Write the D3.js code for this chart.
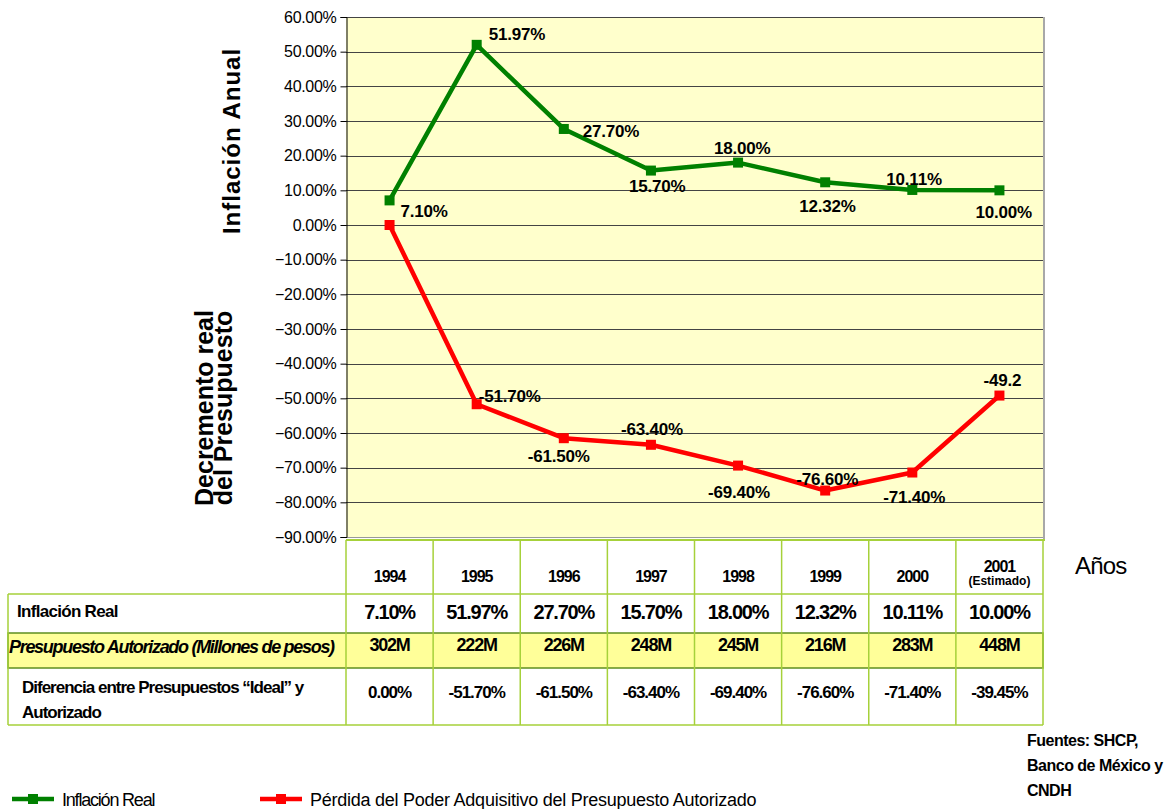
<!DOCTYPE html>
<html>
<head>
<meta charset="utf-8">
<script src="https://cdn.jsdelivr.net/npm/d3@7"></script>
<style>
  body { margin: 0; background: #fff; }
  text { font-family: "Liberation Sans", Arial, sans-serif; fill: #000; }
</style>
</head>
<body>
<script>
// data
var years = ["1994", "1995", "1996", "1997", "1998", "1999", "2000", "2001"];
var inflacion = [7.10, 51.97, 27.70, 15.70, 18.00, 12.32, 10.11, 10.00];
var perdida = [0, -51.70, -61.50, -63.40, -69.40, -76.60, -71.40, -49.2];
var perdidaLabels = ["", "-51.70%", "-61.50%", "-63.40%", "-69.40%", "-76.60%", "-71.40%", "-49.2"];
var presupuesto = ["302M", "222M", "226M", "248M", "245M", "216M", "283M", "448M"];
var diferencia = ["0.00%", "-51.70%", "-61.50%", "-63.40%", "-69.40%", "-76.60%", "-71.40%", "-39.45%"];
var yTicks = [60, 50, 40, 30, 20, 10, 0, -10, -20, -30, -40, -50, -60, -70, -80, -90];

// label nudges (layout only)
var greenOff = [[11, 17], [12, -5], [19, 8], [-22, 21], [-24, -9], [-26, 30], [-26, -5], [-24, 28]];
var redOff = [[0, 0], [2, -2], [-36, 24], [-30, -10], [-30, 32], [-29, -6], [-29, 30], [-16, -10]];

var width = 1170, height = 809;
var pLeft = 346, pRight = 1043, pTop = 17, pBottom = 537;
var green = "#008000", red = "#ff0000", tableGreen = "#a6d13a", darkGreen = "#5f8f1f";

var svg = d3.select("body").append("svg")
    .attr("width", width)
    .attr("height", height);

var x = d3.scaleBand().domain(years).range([pLeft, pRight]);
var y = d3.scaleLinear().domain([-90, 60]).range([pBottom, pTop]);
var cx = function(d) { return x(d) + x.bandwidth() / 2; };
var pct = function(d) { return d3.format(".2f")(d) + "%"; };

// plot background
svg.append("rect")
    .attr("x", pLeft).attr("y", pTop)
    .attr("width", pRight - pLeft).attr("height", pBottom - pTop)
    .attr("fill", "#ffffcc");

// gridlines
svg.selectAll("line.grid")
    .data(yTicks)
  .enter().append("line")
    .attr("class", "grid")
    .attr("x1", pLeft).attr("x2", pRight)
    .attr("y1", function(d) { return Math.round(y(d)) + 0.5; })
    .attr("y2", function(d) { return Math.round(y(d)) + 0.5; })
    .attr("stroke", function(d) { return d == -90 ? "#999" : "#444"; })
    .attr("stroke-width", 1);

// right border
svg.append("line")
    .attr("x1", pRight + 1).attr("x2", pRight + 1)
    .attr("y1", pTop).attr("y2", pBottom + 2)
    .attr("stroke", "#a8a8a8").attr("stroke-width", 2);

// y axis
var yAxis = d3.axisLeft(y)
    .tickValues(yTicks)
    .tickSize(6)
    .tickFormat(pct);

var gy = svg.append("g")
    .attr("transform", "translate(" + (pLeft + 0.5) + ",0)")
    .call(yAxis);
gy.select(".domain").attr("stroke", "#000");
gy.selectAll(".tick line").attr("stroke", "#000");
gy.selectAll(".tick text")
    .attr("x", -10)
    .style("font-size", "16px")
    .style("letter-spacing", "-0.3px")
    .style("font-family", "'Liberation Sans', Arial, sans-serif");

// axis titles
svg.append("text")
    .attr("transform", "translate(240,141) rotate(-90)")
    .attr("text-anchor", "middle")
    .style("font-size", "24px")
    .style("font-weight", "bold")
    .style("letter-spacing", "1px")
    .text("Inflación Anual");

svg.append("text")
    .attr("transform", "translate(213,408) rotate(-90)")
    .attr("text-anchor", "middle")
    .style("font-size", "25px")
    .style("font-weight", "bold")
    .text("Decremento real");

svg.append("text")
    .attr("transform", "translate(232,408) rotate(-90)")
    .attr("text-anchor", "middle")
    .style("font-size", "25px")
    .style("font-weight", "bold")
    .text("del Presupuesto");

// series
var line = d3.line()
    .x(function(d, i) { return cx(years[i]); })
    .y(function(d) { return y(d); });

function drawSeries(values, color, labels, offs) {
  svg.append("path")
      .datum(values)
      .attr("d", line)
      .attr("fill", "none")
      .attr("stroke", color)
      .attr("stroke-width", 4.5)
      .attr("stroke-linejoin", "round");

  svg.selectAll(null)
      .data(values)
    .enter().append("rect")
      .attr("x", function(d, i) { return cx(years[i]) - 5; })
      .attr("y", function(d) { return y(d) - 5; })
      .attr("width", 10).attr("height", 10)
      .attr("fill", color);

  svg.selectAll(null)
      .data(values)
    .enter().append("text")
      .attr("x", function(d, i) { return cx(years[i]) + offs[i][0]; })
      .attr("y", function(d, i) { return y(d) + offs[i][1]; })
      .style("font-size", "17px")
      .style("font-weight", "bold")
      .style("letter-spacing", "-0.2px")
      .text(function(d, i) { return labels[i]; });
}

drawSeries(inflacion, green, inflacion.map(pct), greenOff);
drawSeries(perdida, red, perdidaLabels, redOff);

// table
var tLeft = 8;
var rowTop = [540, 594, 633, 668, 725];

// plot bottom green line
svg.append("line")
    .attr("x1", pLeft).attr("x2", pRight + 2)
    .attr("y1", 540).attr("y2", 540)
    .attr("stroke", tableGreen).attr("stroke-width", 2);

// highlighted row
svg.append("rect")
    .attr("x", tLeft).attr("y", rowTop[2])
    .attr("width", pRight - tLeft).attr("height", rowTop[3] - rowTop[2])
    .attr("fill", "#ffff99")
    .attr("stroke", darkGreen).attr("stroke-width", 1.5);

// horizontal rules
[rowTop[1], rowTop[4]].forEach(function(yy) {
  svg.append("line")
      .attr("x1", tLeft).attr("x2", pRight)
      .attr("y1", yy).attr("y2", yy)
      .attr("stroke", tableGreen).attr("stroke-width", 1.5);
});
svg.append("line")
    .attr("x1", tLeft).attr("x2", tLeft)
    .attr("y1", rowTop[1]).attr("y2", rowTop[4])
    .attr("stroke", tableGreen).attr("stroke-width", 1.5);

// column separators
svg.selectAll("line.col")
    .data(years.concat(["end"]))
  .enter().append("line")
    .attr("class", "col")
    .attr("x1", function(d, i) { return pLeft + i * x.bandwidth(); })
    .attr("x2", function(d, i) { return pLeft + i * x.bandwidth(); })
    .attr("y1", 540).attr("y2", rowTop[4])
    .attr("stroke", tableGreen).attr("stroke-width", 1.5);

// header
svg.selectAll("text.year")
    .data(years)
  .enter().append("text")
    .attr("class", "year")
    .attr("x", function(d) { return cx(d); })
    .attr("y", function(d) { return d == "2001" ? 572 : 582; })
    .attr("text-anchor", "middle")
    .style("font-size", "16px")
    .style("font-weight", "bold")
    .style("letter-spacing", "-1px")
    .text(function(d) { return d; });

svg.append("text")
    .attr("x", cx("2001")).attr("y", 585)
    .attr("text-anchor", "middle")
    .style("font-size", "12px")
    .style("font-weight", "bold")
    .text("(Estimado)");

svg.append("text")
    .attr("x", 1075).attr("y", 574)
    .style("font-size", "24px")
    .style("letter-spacing", "-0.8px")
    .text("Años");

// row labels
svg.append("text")
    .attr("x", 17).attr("y", 617)
    .style("font-size", "17px").style("font-weight", "bold")
    .style("letter-spacing", "-0.7px")
    .text("Inflación Real");

svg.append("text")
    .attr("x", 9).attr("y", 653)
    .style("font-size", "18px").style("font-weight", "bold")
    .style("font-style", "italic")
    .style("letter-spacing", "-1.3px")
    .text("Presupuesto Autorizado (Millones de pesos)");

svg.append("text")
    .attr("x", 22).attr("y", 693)
    .style("font-size", "17px").style("font-weight", "bold")
    .style("letter-spacing", "-1px")
    .text("Diferencia entre Presupuestos “Ideal” y");

svg.append("text")
    .attr("x", 22).attr("y", 718)
    .style("font-size", "17px").style("font-weight", "bold")
    .style("letter-spacing", "-1px")
    .text("Autorizado");

// row values
function rowValues(vals, yy, size, ls) {
  svg.selectAll(null)
      .data(vals)
    .enter().append("text")
      .attr("x", function(d, i) { return cx(years[i]); })
      .attr("y", yy)
      .attr("text-anchor", "middle")
      .style("font-size", size)
      .style("font-weight", "bold")
      .style("letter-spacing", ls)
      .text(function(d) { return d; });
}
rowValues(inflacion.map(pct), 619, "20px", "-1.2px");
rowValues(presupuesto, 651, "18px", "-1.2px");
rowValues(diferencia, 698, "17px", "-1px");

// sources
["Fuentes: SHCP,", "Banco de México y", "CNDH"].forEach(function(t, i) {
  svg.append("text")
      .attr("x", 1027).attr("y", 746 + i * 25)
      .style("font-size", "16px").style("font-weight", "bold")
      .style("letter-spacing", "-0.5px")
      .text(t);
});

// legend
var legend = [
  {name: "Inflación Real", color: green, x: 12, ls: "-1.2px"},
  {name: "Pérdida del Poder Adquisitivo del Presupuesto Autorizado", color: red, x: 260, ls: "-0.25px"}
];
var lg = svg.selectAll("g.legend")
    .data(legend)
  .enter().append("g")
    .attr("class", "legend")
    .attr("transform", function(d) { return "translate(" + d.x + ",799)"; });
lg.append("line")
    .attr("x1", 0).attr("x2", 42)
    .attr("stroke", function(d) { return d.color; })
    .attr("stroke-width", 4.5);
lg.append("rect")
    .attr("x", 16).attr("y", -5).attr("width", 10).attr("height", 10)
    .attr("fill", function(d) { return d.color; });
lg.append("text")
    .attr("x", 50).attr("y", 7)
    .style("font-size", "18px")
    .style("letter-spacing", function(d) { return d.ls; })
    .text(function(d) { return d.name; });
</script>
</body>
</html>
